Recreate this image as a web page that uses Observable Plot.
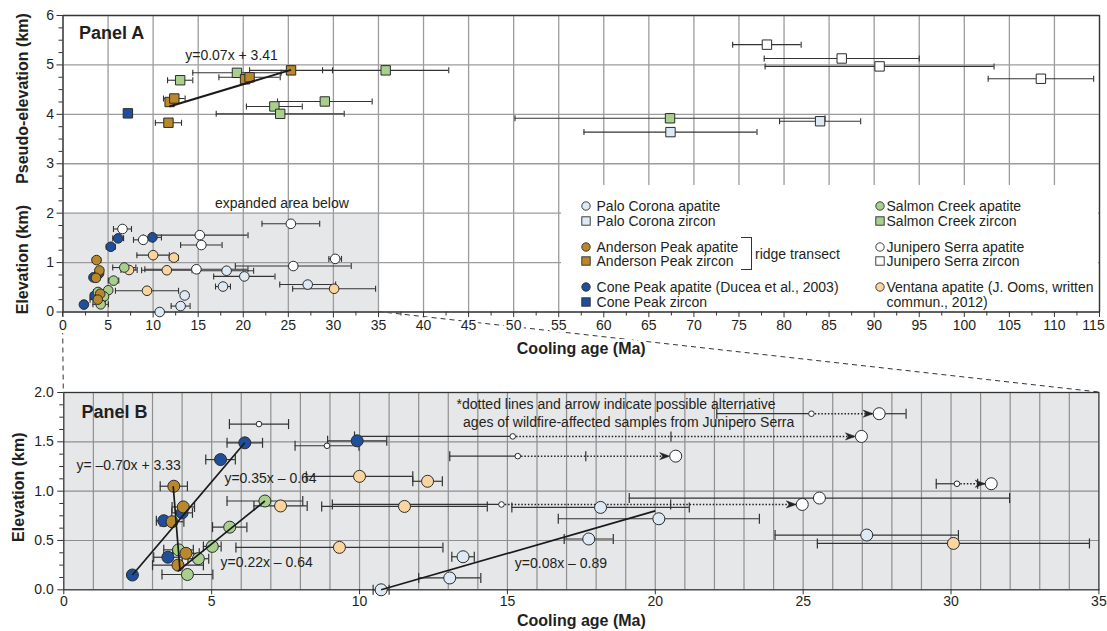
<!DOCTYPE html>
<html>
<head>
<meta charset="utf-8">
<script src="https://cdn.jsdelivr.net/npm/d3@7"></script>
<script src="https://cdn.jsdelivr.net/npm/@observablehq/plot@0.6"></script>
<style>
  html, body { margin: 0; padding: 0; background: #fff; overflow: hidden; }
  #chart { position: relative; width: 1107px; height: 631px; font-family: "Liberation Sans", Arial, Helvetica, sans-serif; color: #231f20; }
  #chart > svg { position: absolute; left: 0; }
  .legend { position: absolute; background: #fff; font-size: 14px; line-height: 1; }
  .legend .item { position: absolute; height: 18px; display: flex; align-items: center; white-space: nowrap; }
  .legend .bracket { position: absolute; border: 1.2px solid #333; border-left: none; box-sizing: border-box; }
</style>
</head>
<body>
<div id="chart"></div>
<script>
// ---- Sample groups and their marker colours ----
const seriesKeys   = ["palo", "salmon", "anderson", "junipero", "cone", "ventana"];
const seriesNames  = ["Palo Corona", "Salmon Creek", "Anderson Peak", "Junipero Serra", "Cone Peak", "Ventana"];
const seriesColors = ["#dde9f5", "#a8d08c", "#b8882b", "#ffffff", "#1f4f9b", "#fcd49d"];

// ---- Apatite cooling ages: [age (Ma), ±error (Ma), elevation (km)] ----
const paloCoronaApatite   = [[10.73, 0.27, 0.0], [13.05, 1.05, 0.12], [13.5, 0.38, 0.335], [17.75, 0.83, 0.515], [18.15, 3.0, 0.835], [20.12, 3.4, 0.72], [27.15, 3.1, 0.555]];
const salmonCreekApatite  = [[6.8, 1.28, 0.9], [5.61, 0.58, 0.635], [5.02, 0.3, 0.44], [4.55, 0.35, 0.315], [3.88, 0.5, 0.405], [4.18, 0.86, 0.155]];
const andersonPeakApatite = [[3.72, 0.46, 1.05], [4.04, 0.38, 0.84], [3.66, 0.4, 0.69], [4.13, 0.45, 0.37], [3.86, 0.86, 0.25]];
const conePeakApatite     = [[2.32, 0, 0.15], [3.38, 0.25, 0.7], [3.52, 0.48, 0.33], [4.0, 0.35, 0.78], [5.3, 0.5, 1.32], [6.12, 0.6, 1.49], [9.92, 1.0, 1.51]];
const ventanaApatite      = [[7.33, 0.9, 0.85], [10.0, 1.8, 1.15], [12.3, 0.5, 1.1], [9.32, 3.5, 0.43], [11.52, 2.8, 0.845], [30.08, 4.6, 0.47]];
// Junipero Serra: [age, ±error, elevation, alternative age (or null), wildfire-affected]
const juniperoSerraApatite = [
  [6.6, 1.0, 1.68, null, true], [8.9, 1.08, 1.46, null, true],
  [15.18, 5.35, 1.555, 26.97, true], [15.35, 2.3, 1.355, 20.69, true],
  [25.28, 3.2, 1.785, 27.57, true], [14.8, 5.72, 0.865, 24.97, true],
  [30.2, 0.7, 1.075, 31.36, true], [25.55, 6.43, 0.93, null, false]
];

// ---- Zircon cooling ages: [age (Ma), ±error (Ma), pseudo-elevation (km)] ----
const paloCoronaZircon    = [[67.4, 9.6, 3.64], [84.0, 4.5, 3.86]];
const salmonCreekZircon   = [[13.0, 1.4, 4.69], [19.3, 4.9, 4.84], [23.45, 3.1, 4.16], [24.1, 7.1, 4.01], [29.05, 5.25, 4.26], [35.8, 7.0, 4.89], [67.35, 17.2, 3.92]];
const andersonPeakZircon  = [[11.7, 1.45, 3.83], [11.83, 0.3, 4.25], [12.35, 1.2, 4.32], [20.2, 0.3, 4.71], [20.7, 3.4, 4.75], [25.3, 4.6, 4.89]];
const conePeakZircon      = [[7.2, 0.4, 4.02]];
const juniperoSerraZircon = [[78.1, 3.8, 5.41], [86.4, 8.6, 5.13], [90.6, 12.7, 4.97], [108.5, 5.85, 4.72]];

// ---- Regression lines: [x1, y1, x2, y2] and their equations ----
const zirconTrends  = [[11.8, 4.16, 25.3, 4.9]];
const zirconTrendLabels = ["y=0.07x + 3.41"];
const apatiteTrends = [[3.7, 1.05, 3.93, 0.19], [2.32, 0.15, 6.12, 1.49], [3.86, 0.19, 6.8, 0.9], [10.73, 0.0, 20.0, 0.8]];
const apatiteTrendLabels = ["y= –0.70x + 3.33", "y=0.35x – 0.64", "y=0.22x – 0.64", "y=0.08x – 0.89"];

// ---- Axes ----
const ageTicksA  = [0, 5, 10, 15, 20, 25, 30, 35, 40, 45, 50, 55, 60, 65, 70, 75, 80, 85, 90, 95, 100, 105, 110, 115];
const elevTicksA = [0, 1, 2, 3, 4, 5, 6];
const ageTicksB  = [0, 5, 10, 15, 20, 25, 30, 35];
const elevTicksB = [0, 0.5, 1.0, 1.5, 2.0];
const zoomAge  = [0, 35];   // window expanded in panel B
const zoomElev = [0, 2];

// ---- Legend entries ----
const legendColumns = [
  [["palo", "circle", "Palo Corona apatite"], ["palo", "square", "Palo Corona zircon"],
   ["anderson", "circle", "Anderson Peak apatite"], ["anderson", "square", "Anderson Peak zircon"],
   ["cone", "circle", "Cone Peak apatite (Ducea et al., 2003)"], ["cone", "square", "Cone Peak zircon"]],
  [["salmon", "circle", "Salmon Creek apatite"], ["salmon", "square", "Salmon Creek zircon"],
   ["junipero", "circle", "Junipero Serra apatite"], ["junipero", "square", "Junipero Serra zircon"],
   ["ventana", "circle", "Ventana apatite (J. Ooms, written"], [null, null, "commun., 2012)"]]
];
const bracketLabel = "ridge transect";

// ---------------------------------------------------------------------------
const FONT = '"Liberation Sans", Arial, Helvetica, sans-serif';
const INK = "#231f20";
const BAR = "#333333";
const EDGE = "#2b2b2b";
const GRID = "#9c9c9c";
const SHADE = "#e6e7e8";

const colorOf = Object.fromEntries(seriesKeys.map((k, i) => [k, seriesColors[i]]));
const rowsOf = (list, key) => list.map(([age, err, elev, alt = null, fire = false]) => ({key, age, err, elev, alt, fire}));
const fillOf = d => colorOf[d.key];

// drawing order of the groups
const apatiteRows = [
  ...rowsOf(paloCoronaApatite, "palo"), ...rowsOf(ventanaApatite, "ventana"),
  ...rowsOf(conePeakApatite, "cone"), ...rowsOf(salmonCreekApatite, "salmon"),
  ...rowsOf(andersonPeakApatite, "anderson"), ...rowsOf(juniperoSerraApatite, "junipero")
];
const zirconRows = [
  ...rowsOf(paloCoronaZircon, "palo"), ...rowsOf(juniperoSerraZircon, "junipero"),
  ...rowsOf(conePeakZircon, "cone"), ...rowsOf(salmonCreekZircon, "salmon"),
  ...rowsOf(andersonPeakZircon, "anderson")
];

// vertical end cap of an error bar; half-height follows r
const capSymbol = {
  draw(context, size) {
    const h = Math.sqrt(size / Math.PI);
    context.moveTo(0, -h);
    context.lineTo(0, h);
  }
};
// filled, notched arrowhead pointing right with its tip at the origin
const arrowHead = {
  draw(context) {
    context.moveTo(0, 0);
    context.lineTo(-10, -3.6);
    context.lineTo(-7, 0);
    context.lineTo(-10, 3.6);
    context.closePath();
  }
};

const trendRows = list => list.map(([x1, y1, x2, y2]) => ({x1, y1, x2, y2}));
const capsOf = segs => segs.flatMap(s => [{x: s.x1, y: s.y, c: s.capL}, {x: s.x2, y: s.y, c: s.capR}]).filter(c => c.c);
const baseStyle = {background: "none", fontFamily: FONT, fontSize: "14px", color: INK, overflow: "visible"};

// ===================== Panel A =====================
const allA = [...apatiteRows, ...zirconRows];
const segA = allA.filter(d => d.err > 0).map(d => ({y: d.elev, x1: d.age - d.err, x2: d.age + d.err, capL: true, capR: true}));
const minorAgeA = d3.range(2.5, 115, 5);
const minorElevA = d3.range(0, 6.01, 0.25).filter(v => v % 1 !== 0);

const plotA = Plot.plot({
  width: 1107, height: 360,
  marginLeft: 62.5, marginRight: 8, marginTop: 15, marginBottom: 48.5,
  x: {domain: [0, 115]},
  y: {domain: [0, 6]},
  color: {type: "identity"},
  style: baseStyle,
  marks: [
    Plot.rect([zoomAge], {x1: d => d[0], x2: d => d[1], y1: zoomElev[0], y2: zoomElev[1], fill: SHADE}),
    Plot.gridX(ageTicksA, {stroke: GRID, strokeOpacity: 1, strokeWidth: 1.3}),
    Plot.gridY(elevTicksA, {stroke: GRID, strokeOpacity: 1, strokeWidth: 1.3}),
    Plot.frame({stroke: "#333", strokeWidth: 1.3}),
    Plot.axisX(ageTicksA, {tickSize: 6, tickPadding: 2, label: null, stroke: "#333"}),
    Plot.axisX(minorAgeA, {tickSize: 4, tickFormat: () => "", label: null, stroke: "#333"}),
    Plot.axisY(elevTicksA, {tickSize: 6, tickPadding: 3, label: null, stroke: "#333"}),
    Plot.axisY(minorElevA, {tickSize: 4, tickFormat: () => "", label: null, stroke: "#333"}),
    Plot.text(["expanded area below"], {x: 16.86, y: 2.19, textAnchor: "start", lineAnchor: "middle", fontSize: 14, fill: INK}),
    Plot.ruleY(segA, {y: "y", x1: "x1", x2: "x2", stroke: BAR, strokeWidth: 1.1}),
    Plot.dot(capsOf(segA), {x: "x", y: "y", symbol: capSymbol, r: 3, fill: "none", stroke: BAR, strokeWidth: 1.1}),
    Plot.dot(apatiteRows, {x: "age", y: "elev", r: 4.8, fill: fillOf, stroke: EDGE, strokeWidth: 1}),
    Plot.dot(zirconRows, {x: "age", y: "elev", symbol: "square", r: 5.3, fill: fillOf, stroke: EDGE, strokeWidth: 1}),
    Plot.link(trendRows(zirconTrends), {x1: "x1", y1: "y1", x2: "x2", y2: "y2", stroke: "#1a1a1a", strokeWidth: 2}),
    Plot.text(zirconTrendLabels, {x: 13.56, y: 5.19, textAnchor: "start", lineAnchor: "middle", fontSize: 14, fill: INK}),
    Plot.text(["Panel A"], {frameAnchor: "top-left", dx: 16, dy: 17.3, textAnchor: "start", lineAnchor: "middle", fontSize: 18, fontWeight: "bold", fill: INK}),
    Plot.text(["Pseudo-elevation (km)"], {y: 4.32, frameAnchor: "left", dx: -40, rotate: -90, textAnchor: "middle", lineAnchor: "middle", fontSize: 16, fontWeight: "bold", fill: INK}),
    Plot.text(["Elevation (km)"], {y: 1.06, frameAnchor: "left", dx: -40, rotate: -90, textAnchor: "middle", lineAnchor: "middle", fontSize: 16, fontWeight: "bold", fill: INK}),
    Plot.text(["Cooling age (Ma)"], {frameAnchor: "bottom", dy: 36.5, lineAnchor: "middle", fontSize: 16, fontWeight: "bold", fill: INK, stroke: "white", strokeWidth: 6})
  ]
});

// ===================== Panel B =====================
const segB = apatiteRows.filter(d => d.err > 0).flatMap(d => {
  const lo = d.age - d.err, hi = d.age + d.err;
  if (d.alt == null) return [{y: d.elev, x1: lo, x2: hi, capL: true, capR: true}];
  const s = [{y: d.elev, x1: lo, x2: d.age, capL: true, capR: false}];
  if (hi > d.alt) s.push({y: d.elev, x1: d.alt, x2: hi, capL: false, capR: true});
  else s.push({y: d.elev, x1: hi, x2: hi, capL: false, capR: true});
  return s;
});
const bigB = apatiteRows.flatMap(d => {
  const out = [];
  if (!d.fire) out.push({...d, x: d.age});
  if (d.alt != null) out.push({...d, x: d.alt});
  return out;
});
const smallB = apatiteRows.filter(d => d.fire);
const shiftedB = apatiteRows.filter(d => d.alt != null);
const minorElevB = d3.range(0, 2.001, 0.125).filter(v => Math.abs(v * 2 - Math.round(v * 2)) > 1e-9);

const plotB = Plot.plot({
  width: 1107, height: 271,
  marginLeft: 63.3, marginRight: 8.6, marginTop: 32, marginBottom: 41.7,
  x: {domain: zoomAge},
  y: {domain: zoomElev},
  color: {type: "identity"},
  style: baseStyle,
  marks: [
    Plot.frame({fill: SHADE}),
    Plot.gridX(d3.range(zoomAge[0] + 1, zoomAge[1]), {stroke: "#8f8f8f", strokeOpacity: 1, strokeWidth: 1.2}),
    Plot.gridY(elevTicksB.slice(1, -1), {stroke: "#8f8f8f", strokeOpacity: 1, strokeWidth: 1.2}),
    Plot.frame({stroke: "#333", strokeWidth: 1.3}),
    Plot.axisX(ageTicksB, {tickSize: 5, tickPadding: 1, label: null, stroke: "#333"}),
    Plot.axisY(elevTicksB, {tickSize: 6, tickPadding: 4, tickFormat: d3.format(".1f"), label: null, stroke: "#333"}),
    Plot.axisY(minorElevB, {tickSize: 4, tickFormat: () => "", label: null, stroke: "#333"}),
    Plot.text(["*dotted lines and arrow indicate possible alternative"], {x: 13.28, y: 1.875, textAnchor: "start", lineAnchor: "middle", fontSize: 14, fill: INK}),
    Plot.text(["ages of wildfire-affected samples from Junipero Serra"], {x: 13.5, y: 1.70, textAnchor: "start", lineAnchor: "middle", fontSize: 14, fill: INK}),
    Plot.ruleY(segB.filter(s => s.x2 > s.x1), {y: "y", x1: "x1", x2: "x2", stroke: BAR, strokeWidth: 1.2}),
    Plot.dot(capsOf(segB), {x: "x", y: "y", symbol: capSymbol, r: 5, fill: "none", stroke: BAR, strokeWidth: 1.2}),
    Plot.link(shiftedB, {x1: "age", x2: "alt", y1: "elev", y2: "elev", stroke: "#222", strokeWidth: 1.5, strokeDasharray: "1.5,1.8"}),
    Plot.dot(shiftedB, {x: "alt", y: "elev", symbol: arrowHead, dx: -6, fill: "#222", stroke: "#222", strokeWidth: 0.5}),
    Plot.dot(smallB, {x: "age", y: "elev", r: 2.8, fill: "#fff", stroke: EDGE, strokeWidth: 1}),
    Plot.dot(bigB, {x: "x", y: "elev", r: 6, fill: fillOf, stroke: EDGE, strokeWidth: 1}),
    Plot.link(trendRows(apatiteTrends), {x1: "x1", y1: "y1", x2: "x2", y2: "y2", stroke: "#1a1a1a", strokeWidth: 1.7}),
    Plot.text([apatiteTrendLabels[0]], {x: 0.43, y: 1.26, textAnchor: "start", lineAnchor: "middle", fontSize: 14, fill: INK}),
    Plot.text([apatiteTrendLabels[1]], {x: 5.43, y: 1.125, textAnchor: "start", lineAnchor: "middle", fontSize: 14, fill: INK}),
    Plot.text([apatiteTrendLabels[2]], {x: 5.3, y: 0.274, textAnchor: "start", lineAnchor: "middle", fontSize: 14, fill: INK}),
    Plot.text([apatiteTrendLabels[3]], {x: 15.25, y: 0.264, textAnchor: "start", lineAnchor: "middle", fontSize: 14, fill: INK}),
    Plot.text(["Panel B"], {frameAnchor: "top-left", dx: 17.7, dy: 19.7, textAnchor: "start", lineAnchor: "middle", fontSize: 18, fontWeight: "bold", fill: INK}),
    Plot.text(["Elevation (km)"], {y: 1.04, frameAnchor: "left", dx: -45, rotate: -90, textAnchor: "middle", lineAnchor: "middle", fontSize: 16, fontWeight: "bold", fill: INK}),
    Plot.text(["Cooling age (Ma)"], {frameAnchor: "bottom", dy: 30.7, lineAnchor: "middle", fontSize: 16, fontWeight: "bold", fill: INK})
  ]
});

// ===================== Assembly =====================
const chart = document.getElementById("chart");
const topB = 360;

// dashed guides linking the shaded window of panel A to panel B (drawn underneath)
const guides = d3.create("svg").attr("width", 1107).attr("height", 631).style("top", "0px");
chart.append(guides.node());

plotA.style.top = "0px";
plotB.style.top = topB + "px";
chart.append(plotA);
chart.append(plotB);

// white halo behind panel A age labels so the guide lines break around them;
// the last label is nudged inward so it stays on the page
const ageLabelsA = plotA.querySelectorAll('[aria-label="x-axis tick label"] text');
ageLabelsA.forEach(t => {
  t.setAttribute("stroke", "white");
  t.setAttribute("stroke-width", "6");
  t.setAttribute("stroke-linejoin", "round");
  t.setAttribute("paint-order", "stroke");
  if (t.textContent === String(ageTicksA[ageTicksA.length - 1])) t.setAttribute("dx", "-6");
});

const xA = plotA.scale("x"), yA = plotA.scale("y"), xB = plotB.scale("x"), yB = plotB.scale("y");
const guideLines = [
  [[xA.apply(zoomAge[0]), yA.apply(zoomElev[0])], [xB.apply(zoomAge[0]), topB + yB.apply(zoomElev[1])]],
  [[xA.apply(zoomAge[1]), yA.apply(zoomElev[0])], [xB.apply(zoomAge[1]), topB + yB.apply(zoomElev[1])]]
];
guides.selectAll("line").data(guideLines).join("line")
  .attr("x1", d => d[0][0]).attr("y1", d => d[0][1])
  .attr("x2", d => d[1][0]).attr("y2", d => d[1][1])
  .attr("stroke", "#333").attr("stroke-width", 1).attr("stroke-dasharray", "5,4");

// legend box laid over the open part of panel A
const legLeft = xA.apply(55) + 2.3, legTop = 185;
const legend = d3.select(chart).append("div").attr("class", "legend")
  .style("left", legLeft + "px").style("top", legTop + "px")
  .style("width", (xA.apply(115) - 1 - legLeft) + "px")
  .style("height", (yA.apply(0) - 1 - legTop) + "px");

const rowY = [20.6, 36, 61.7, 76.3, 102.3, 117];
const colSymbolX = [25, 319];
const colTextX = [36, 326];
legendColumns.forEach((col, ci) => {
  col.forEach(([key, shape, label], ri) => {
    const item = legend.append("div").attr("class", "item")
      .style("top", (rowY[ri] - 9) + "px")
      .style("left", (key ? colSymbolX[ci] - 5 : colTextX[ci]) + "px");
    if (key) {
      const s = item.append("svg").attr("width", 10).attr("height", 10).style("overflow", "visible").style("flex", "none");
      if (shape === "circle") {
        s.append("circle").attr("cx", 5).attr("cy", 5).attr("r", 4.2)
          .attr("fill", colorOf[key]).attr("stroke", EDGE).attr("stroke-width", 0.9);
      } else {
        s.append("rect").attr("x", 0.8).attr("y", 0.8).attr("width", 8.4).attr("height", 8.4)
          .attr("fill", colorOf[key]).attr("stroke", EDGE).attr("stroke-width", 0.9);
      }
    }
    item.append("span").style("margin-left", key ? (colTextX[ci] - colSymbolX[ci] - 5) + "px" : "0px").text(label);
  });
});
legend.append("div").attr("class", "bracket")
  .style("left", "180.7px").style("top", "51.8px").style("width", "10.5px").style("height", "33px");
legend.append("div").attr("class", "item").style("left", "194.5px").style("top", (69 - 9) + "px").text(bracketLabel);
</script>
</body>
</html>
